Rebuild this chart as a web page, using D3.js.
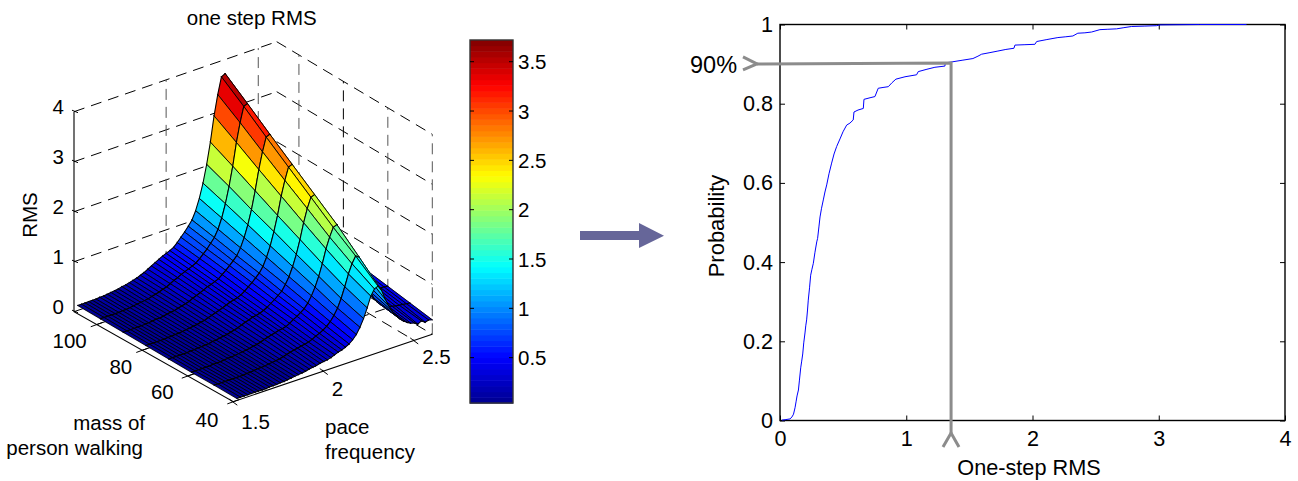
<!DOCTYPE html>
<html>
<head>
<meta charset="utf-8">
<script src="https://cdn.jsdelivr.net/npm/d3@7/dist/d3.min.js"></script>
<style>
html,body{margin:0;padding:0;background:#fff}
svg{display:block}
text{font-family:"Liberation Sans",Arial,sans-serif;fill:#000}
</style>
</head>
<body>
<svg id="c" width="1298" height="481"></svg>
<script>
// ---------- data: surface (left panel) ----------
const paceFrequency = d3.range(55).map(i => +(1.52 + i * 0.02).toFixed(2));
const personMass = [110, 100, 90, 80, 70, 60, 50, 40];
const rmsM110 = [
 .10,.10,.10,.10,.10,.10,.11,.11,.12,
 .13,.14,.15,.17,.18,.20,.22,.24,.27,.30,
 .34,.38,.42,.46,.50,.53,.56,.60,.67,.75,
 .83,.92,1.02,1.18,1.40,1.68,2.03,2.45,2.95,3.35,
 3.68,3.72,3.15,2.55,2.10,1.75,1.50,1.32,1.18,1.08,
 1.00,.95,.90,.86,.82,.80];
const rmsM100 = [
 .09,.09,.09,.09,.09,.09,.10,.10,.11,
 .12,.13,.14,.15,.16,.18,.20,.22,.25,.27,
 .31,.35,.38,.42,.45,.48,.51,.55,.61,.68,
 .75,.84,.93,1.07,1.27,1.53,1.85,2.23,2.68,3.05,
 3.35,3.38,2.86,2.32,1.91,1.59,1.36,1.20,1.07,.98,
 .91,.86,.82,.78,.75,.73];
const rmsM90 = [
 .08,.08,.08,.08,.08,.08,.09,.09,.10,
 .11,.11,.12,.14,.15,.16,.18,.20,.22,.24,
 .28,.31,.34,.37,.41,.43,.46,.49,.55,.61,
 .68,.75,.83,.96,1.14,1.37,1.65,2.00,2.40,2.73,
 3.00,3.03,2.57,2.08,1.71,1.43,1.22,1.08,.96,.88,
 .82,.77,.73,.70,.67,.65];
const rmsM80 = [
 .07,.07,.07,.07,.07,.07,.08,.08,.09,
 .09,.10,.11,.12,.13,.14,.16,.17,.20,.22,
 .25,.27,.30,.33,.36,.38,.40,.43,.48,.54,
 .60,.67,.74,.85,1.01,1.21,1.47,1.77,2.13,2.42,
 2.66,2.69,2.25,1.82,1.48,1.25,1.08,.95,.85,.78,
 .72,.68,.65,.62,.59,.58];
const rmsM70 = [
 .06,.06,.06,.06,.06,.06,.07,.07,.08,
 .08,.09,.09,.11,.11,.13,.14,.15,.17,.19,
 .21,.24,.27,.29,.32,.33,.35,.38,.42,.47,
 .52,.58,.64,.75,.88,1.06,1.28,1.55,1.86,2.12,
 2.32,2.35,1.90,1.52,1.24,1.05,.90,.80,.72,.66,
 .62,.58,.55,.53,.51,.50];
const rmsM60 = [
 .05,.05,.05,.05,.05,.05,.06,.06,.06,
 .07,.08,.08,.09,.10,.11,.12,.13,.15,.16,
 .18,.21,.23,.25,.27,.29,.30,.32,.36,.41,
 .45,.50,.55,.64,.76,.91,1.10,1.33,1.60,1.81,
 1.98,2.01,1.62,1.28,1.03,.87,.75,.67,.60,.55,
 .52,.49,.47,.45,.44,.43];
const rmsM50 = [
 .05,.05,.05,.05,.05,.05,.05,.05,.05,
 .06,.06,.07,.08,.08,.09,.10,.11,.12,.13,
 .15,.17,.19,.21,.22,.24,.25,.27,.30,.34,
 .37,.41,.46,.53,.63,.75,.92,1.13,1.36,1.54,
 1.67,1.62,1.32,1.05,.86,.71,.60,.52,.47,.44,
 .42,.40,.39,.38,.37,.36];
const rmsM40 = [
 .04,.04,.04,.04,.04,.04,.04,.04,.04,
 .05,.05,.05,.06,.06,.07,.08,.09,.10,.11,
 .12,.14,.15,.16,.18,.19,.20,.22,.25,.28,
 .30,.33,.37,.43,.51,.63,.78,.97,1.18,1.30,
 1.33,1.22,1.02,.86,.73,.62,.53,.46,.41,.37,
 .35,.30,.34,.29,.31,.29];
const rmsGrid = [rmsM110, rmsM100, rmsM90, rmsM80, rmsM70, rmsM60, rmsM50, rmsM40];

const massTicks = [100, 80, 60, 40];
const freqTicks = [1.5, 2, 2.5];
const rmsTicks = [0, 1, 2, 3, 4];
const colorbarTicks = [0.5, 1, 1.5, 2, 2.5, 3, 3.5];

// ---------- data: CDF (right panel) ----------
const cdfRms = [
 .016,.040,.079,.095,.107,.119,.127,.135,.146,.154,.164,.172,.180,.188,.198,.204,.211,.218,.224,.234,
 .243,.253,.264,.277,.291,.298,.309,.317,.329,.343,.356,.370,.388,.409,.428,.449,.475,.499,.528,.554,
 .580,.586,.618,.660,.665,.713,.752,.778,.816,.858,.887,.918,.990,1.082,1.095,1.164,1.227,1.306,1.310,1.370,
 1.449,1.528,1.568,1.597,1.663,1.726,1.789,1.853,1.861,1.940,2.019,2.033,2.114,2.201,2.264,2.320,2.359,2.415,2.468,2.534,
 2.597,2.666,2.724,2.785,2.890,2.983,3.009,3.325,3.695];
const cdfProb = [
 .001,.002,.004,.009,.016,.032,.047,.062,.077,.102,.133,.150,.168,.196,.221,.239,.254,.279,.304,.335,
 .367,.382,.397,.425,.451,.460,.491,.514,.536,.557,.577,.595,.623,.650,.673,.692,.711,.729,.746,.751,
 .759,.779,.784,.788,.811,.815,.818,.839,.841,.843,.853,.862,.868,.873,.881,.887,.892,.895,.903,.906,
 .910,.914,.920,.925,.929,.933,.937,.940,.948,.949,.950,.957,.962,.967,.969,.971,.978,.979,.981,.987,
 .988,.989,.992,.995,.996,.997,.999,1,1];
const cdfXTicks = [0, 1, 2, 3, 4];
const cdfYTicks = [0, 0.2, 0.4, 0.6, 0.8, 1];
const level90 = 0.903;
const rmsAt90 = 1.355;

// ---------- helpers ----------
const svg = d3.select("#c");
const FS = 20.5, FSR = 21.6;
const label = (g, x, y, s, anchor = "middle", size = FS, rot = null) => {
  const t = g.append("text").attr("text-anchor", anchor).attr("dominant-baseline", "central")
    .attr("font-size", size).text(s);
  if (rot === null) t.attr("x", x).attr("y", y);
  else t.attr("transform", `translate(${x},${y}) rotate(${rot})`);
  return t;
};

// ---------- jet colormap, 64 levels ----------
const cMin = 0.04, cMax = 3.72;
const jet = d3.scaleLinear()
  .domain([0, 1/8, 3/8, 5/8, 7/8, 1])
  .range(["#00008f", "#0000ff", "#00ffff", "#ffff00", "#ff0000", "#800000"])
  .interpolate(d3.interpolateRgb).clamp(true);
const level = d3.scaleQuantize().domain([cMin, cMax]).range(d3.range(64));
const jetColor = v => jet((level(v) + 0.5) / 64);

// ---------- 3D projection ----------
const C = { F: [233.3, 401.7], R: [432.3, 334.3], L: [74, 311.7], B: [276.7, 241.7] };
const fS = d3.scaleLinear().domain([1.5, 2.6]).range([0, 1]);
const mS = d3.scaleLinear().domain([40, 110]).range([0, 1]);
const zS = d3.scaleLinear().domain([0, 4]).range([0, 200]);
const project = (f, m, z) => {
  const a = fS(f), b = mS(m);
  const bil = i => (1-a)*(1-b)*C.F[i] + a*(1-b)*C.R[i] + (1-a)*b*C.L[i] + a*b*C.B[i];
  return [bil(0), bil(1) - zS(z)];
};

const left = svg.append("g");
const lineGen = d3.line();

// walls & floor dashes
const grid = left.append("g").attr("fill", "none").attr("stroke", "#000").attr("stroke-width", 1)
  .attr("stroke-dasharray", "11,7");
const seg = (p, q, stroke) => grid.append("path").attr("d", lineGen([p, q])).attr("stroke", stroke || "#000");
rmsTicks.filter(z => z > 0).forEach(z => {
  seg(project(1.5, 110, z), project(2.6, 110, z));
  seg(project(2.6, 110, z), project(2.6, 40, z));
});
freqTicks.filter(f => f > 1.5).forEach(f => {
  seg(project(f, 110, 0), project(f, 110, 4), "#555");
  seg(project(f, 110, 0), project(f, 40, 0));
});
massTicks.forEach(m => {
  seg(project(2.6, m, 0), project(2.6, m, 4), m === 80 ? "#000" : "#555");
  if (m > 40) seg(project(1.5, m, 0), project(2.6, m, 0));
});
seg(project(1.5, 110, 0), project(2.6, 110, 0));
seg(project(2.6, 110, 0), project(2.6, 40, 0));

// solid axes
const axes = left.append("g").attr("fill", "none").attr("stroke", "#000").attr("stroke-width", 1.1);
axes.append("path").attr("d", lineGen([project(1.5, 110, 4), project(1.5, 110, 0), project(1.5, 40, 0), project(2.6, 40, 0)]));

// surface: far to near (m descending rows, f descending columns)
const surf = left.append("g").attr("stroke-linejoin", "round").attr("stroke-linecap", "round");
personMass.slice(0, -1).forEach((m, r) => {
  const m2 = personMass[r + 1];
  for (let c = paceFrequency.length - 2; c >= 0; c--) {
    const f1 = paceFrequency[c], f2 = paceFrequency[c + 1];
    const z11 = rmsGrid[r][c], z12 = rmsGrid[r][c + 1], z21 = rmsGrid[r + 1][c], z22 = rmsGrid[r + 1][c + 1];
    const mean = (z11 + z12 + z21 + z22) / 4;
    const A = project(f1, m, z11), B = project(f2, m, z12), D = project(f2, m2, z22), E = project(f1, m2, z21);
    const col = jetColor(mean);
    surf.append("path").attr("d", lineGen([A, B, D, E]) + "Z").attr("fill", col).attr("stroke", col).attr("stroke-width", 0.3);
    surf.append("path").attr("d", lineGen([B, D]) + "M" + lineGen([E, A]).slice(1)).attr("fill", "none").attr("stroke", "#000").attr("stroke-width", 0.9);
    surf.append("path").attr("d", lineGen([A, B]) + "M" + lineGen([D, E]).slice(1)).attr("fill", "none").attr("stroke", "#000").attr("stroke-width", 1.05);
  }
});

// 3D ticks
const tk = left.append("g").attr("stroke", "#000").attr("stroke-width", 1).attr("fill", "none");
rmsTicks.forEach(z => {
  const [x, y] = project(1.5, 110, z);
  tk.append("path").attr("d", lineGen([[x - 2, y - 1.5], [x + 4, y + 1]]));
  label(left, x - 10, y - 5, d3.format("d")(z), "end");
});
const massDx = { 100: -10, 80: -10, 60: -14, 40: -15 };
massTicks.forEach(m => {
  const [x, y] = project(1.5, m, 0);
  tk.append("path").attr("d", lineGen([[x - 6, y + 2.2], [x + 6, y - 2.2]]));
  label(left, x + massDx[m], y + (m === 40 ? 18 : 16), String(m), "end");
});
const freqDy = { 1.5: 20, 2: 17.5, 2.5: 16 };
freqTicks.forEach(f => {
  const [x, y] = project(f, 40, 0);
  tk.append("path").attr("d", lineGen([[x - 4, y - 2.5], [x + 4, y + 3.5]]));
  label(left, x + 8, y + freqDy[f], String(f), "start");
});

label(left, 251.7, 17, "one step RMS");
label(left, 29, 215, "RMS", "middle", FS, -90);
label(left, 145, 422.5, "mass of", "end");
label(left, 143, 447, "person walking", "end");
label(left, 325, 426, "pace", "start");
label(left, 325, 451.5, "frequency", "start");

// ---------- colorbar ----------
const cb = svg.append("g");
const cbY = d3.scaleLinear().domain([0, 3.5]).range([407, 61.7]);
const cbW = [470, 513];
const step = (cMax - cMin) / 64;
cb.selectAll("rect").data(d3.range(64)).join("rect")
  .attr("x", cbW[0]).attr("width", cbW[1] - cbW[0])
  .attr("y", i => cbY(cMin + (i + 1) * step)).attr("height", i => cbY(cMin + i * step) - cbY(cMin + (i + 1) * step) + 0.5)
  .attr("fill", i => jet((i + 0.5) / 64));
cb.append("rect").attr("x", cbW[0]).attr("y", cbY(cMax)).attr("width", cbW[1] - cbW[0]).attr("height", cbY(cMin) - cbY(cMax))
  .attr("fill", "none").attr("stroke", "#333").attr("stroke-width", 1.4);
colorbarTicks.forEach(v => {
  const y = cbY(v);
  cb.append("path").attr("d", lineGen([[cbW[0], y], [cbW[0] + 4, y]])).attr("stroke", "#000");
  cb.append("path").attr("d", lineGen([[cbW[1] - 4, y], [cbW[1], y]])).attr("stroke", "#000");
  label(cb, 518, y, String(v), "start");
});

// ---------- block arrow ----------
svg.append("path").attr("fill", "#666699")
  .attr("d", lineGen([[580, 231], [639, 231], [639, 223], [664, 235.7], [639, 248], [639, 240], [580, 240]]) + "Z");

// ---------- CDF ----------
const xS = d3.scaleLinear().domain([0, 4]).range([780, 1285]);
const yS = d3.scaleLinear().domain([0, 1]).range([420.5, 24.5]);
const right = svg.append("g");
const fmt = d3.format("~g");
const styleAxis = g => {
  g.select(".domain").remove();
  g.selectAll("line").attr("stroke", "#000");
  g.selectAll("text").attr("font-size", FSR).attr("font-family", '"Liberation Sans",Arial,sans-serif').attr("fill", "#000");
};
right.append("g").attr("transform", `translate(0,${yS(0)})`)
  .call(d3.axisBottom(xS).tickValues(cdfXTicks).tickFormat(fmt).tickSize(-5).tickPadding(10)).call(styleAxis);
right.append("g").attr("transform", `translate(${xS(0)},0)`)
  .call(d3.axisLeft(yS).tickValues(cdfYTicks).tickFormat(fmt).tickSize(-5).tickPadding(7)).call(styleAxis);
right.append("g").attr("transform", `translate(0,${yS(1)})`)
  .call(d3.axisTop(xS).tickValues(cdfXTicks).tickFormat("").tickSize(-5)).call(styleAxis);
right.append("g").attr("transform", `translate(${xS(4)},0)`)
  .call(d3.axisRight(yS).tickValues(cdfYTicks).tickFormat("").tickSize(-5)).call(styleAxis);
right.append("rect").attr("x", xS(0)).attr("y", yS(1)).attr("width", xS(4) - xS(0)).attr("height", yS(0) - yS(1))
  .attr("fill", "none").attr("stroke", "#000").attr("stroke-width", 1.4);

const cdfLine = d3.line().x(d => xS(d[0])).y(d => yS(d[1]));
right.append("path").attr("d", cdfLine(cdfRms.map((x, i) => [x, cdfProb[i]])))
  .attr("fill", "none").attr("stroke", "#0000ff").attr("stroke-width", 1);

const gray = right.append("g").attr("fill", "none").attr("stroke", "#8c8c8c").attr("stroke-width", 3);
const gx = xS(rmsAt90), gy = yS(level90);
gray.append("path").attr("d", lineGen([[757, gy + 1], [gx, gy], [gx, 433]]));
gray.append("path").attr("d", lineGen([[743, gy - 6], [757, gy + 1], [743, gy + 7]]));
gray.append("path").attr("d", lineGen([[943, 447], [gx, 433], [959, 447]]));

label(right, 690, 65, "90%", "start", 23.5);
label(right, 716, 226, "Probability", "middle", 22, -90);
label(right, 1029, 467, "One-step RMS", "middle", 21.7);
</script>
</body>
</html>
